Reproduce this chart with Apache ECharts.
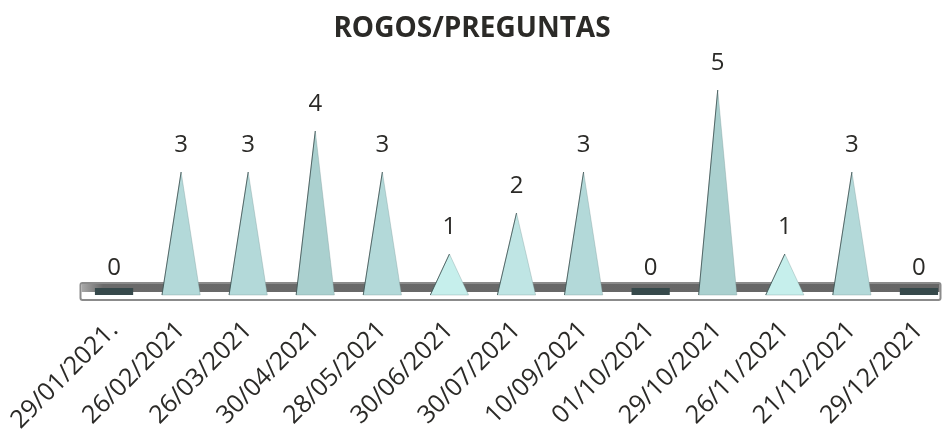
<!DOCTYPE html>
<html>
<head>
<meta charset="utf-8">
<script src="https://cdn.jsdelivr.net/npm/echarts@6/dist/echarts.min.js"></script>
<style>
  html, body { margin: 0; padding: 0; background: #fff; }
  #chart { width: 944px; height: 434px; }
</style>
</head>
<body>
<div id="chart"></div>
<script>
    // fechas de cada sesión
    var categories = ['29/01/2021.', '26/02/2021', '26/03/2021', '30/04/2021', '28/05/2021', '30/06/2021',
        '30/07/2021', '10/09/2021', '01/10/2021', '29/10/2021', '26/11/2021', '21/12/2021', '29/12/2021']
    // nº de rogos/preguntas
    var values = [0, 3, 3, 4, 3, 1, 2, 3, 0, 5, 1, 3, 0]

    var font = '"Open Sans", "Noto Sans", sans-serif'
    var textColor = '#2b2a27'

    function pyramidColor(v) {
        if (v >= 4) return '#aad0cf'
        if (v == 3) return '#b3d9d9'
        if (v == 2) return '#bfe5e4'
        return '#c6efec'
    }

    function renderItem(params, api) {
        var idx = api.value(0)
        var v = api.value(1)
        var basePt = api.coord([idx, 0])
        var topPt = api.coord([idx, v])
        var cx = basePt[0]
        var base = basePt[1]
        var half = api.size([1, 0])[0] * 0.285
        var children = []

        // base / suelo del gráfico (solo una vez)
        if (params.dataIndex === 0) {
            var cs = params.coordSys
            var left = cs.x
            var w = cs.width - 12
            children.push({
                type: 'rect', z2: 0,
                shape: { x: left, y: base - 12, width: w, height: 17, r: 2 },
                style: { fill: '#ffffff', stroke: '#8b8b8b', lineWidth: 2 }
            })
            children.push({
                type: 'rect', z2: 1,
                shape: { x: left + 1, y: base - 11, width: w - 2, height: 8 },
                style: {
                    fill: new echarts.graphic.LinearGradient(0, 0, 1, 0, [
                        { offset: 0, color: '#a8a8a8' },
                        { offset: 0.025, color: '#6a6a6a' },
                        { offset: 1, color: '#666666' }
                    ])
                }
            })
        }

        if (v > 0) {
            children.push({
                type: 'polygon', z2: 10,
                shape: { points: [[cx - half, base], [cx, topPt[1]], [cx + half, base]] },
                style: { fill: pyramidColor(v), stroke: 'rgba(120,150,150,0.35)', lineWidth: 1 }
            })
            children.push({
                type: 'polyline', z2: 11,
                shape: { points: [[cx - half, base], [cx, topPt[1]]] },
                style: { stroke: 'rgba(50,70,70,0.75)', lineWidth: 1, fill: null }
            })
        } else {
            children.push({
                type: 'rect', z2: 10,
                shape: { x: cx - half, y: base - 7, width: half * 2, height: 7 },
                style: { fill: '#36494b' }
            })
        }

        children.push({
            type: 'text', z2: 20,
            style: {
                text: String(v), x: cx, y: topPt[1] - 27,
                align: 'center', verticalAlign: 'middle',
                font: '24px ' + font, fill: textColor
            }
        })

        return { type: 'group', children: children }
    }

    var chart = echarts.init(document.getElementById('chart'))
    var option = {
        animation: false,
        title: {
            text: 'ROGOS/PREGUNTAS',
            left: 'center',
            top: 10,
            textStyle: { fontFamily: font, fontWeight: 'bold', fontSize: 28, color: textColor }
        },
        grid: { left: 80.5, width: 872, top: 90, bottom: 139, outerBoundsMode: 'none' },
        xAxis: {
            type: 'category',
            data: categories,
            axisLine: { show: false },
            axisTick: { show: false },
            axisLabel: {
                interval: 0,
                rotate: 45,
                margin: 31,
                fontSize: 25,
                fontFamily: font,
                color: textColor
            }
        },
        yAxis: { type: 'value', min: 0, max: 5, show: false },
        series: [{
            type: 'custom',
            renderItem: renderItem,
            clip: false,
            encode: { x: 0, y: 1 },
            data: values.map(function (v, i) { return [i, v] })
        }]
    }
    chart.setOption(option)
</script>
</body>
</html>
